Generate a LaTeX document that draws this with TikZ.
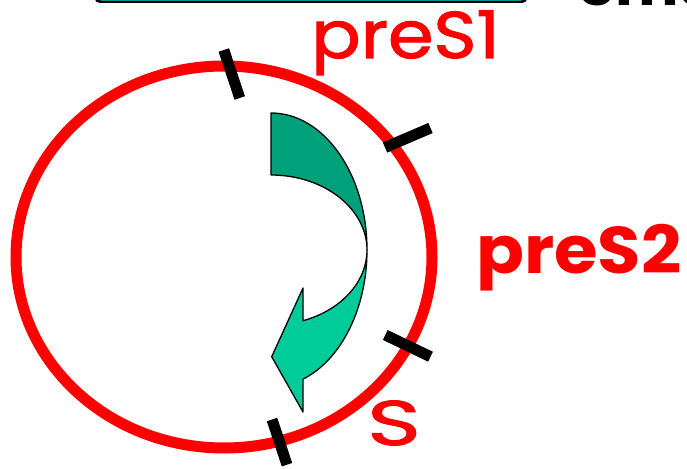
\documentclass[tikz,border=0pt]{standalone}
\usepackage{fontspec}
\newfontfamily\labfont{Poppins}
\newfontfamily\labfontheavy[FakeBold=1.6]{Poppins}
\definecolor{ringred}{RGB}{255,0,0}
\definecolor{darkteal}{RGB}{0,160,122}
\definecolor{lightteal}{RGB}{0,204,153}
\definecolor{boxcyan}{RGB}{0,230,230}
\tikzset{
  ring/.style={draw=ringred, line width=11pt},
  tick/.style={draw=black, line width=11pt, line cap=butt},
  band/.style={draw=black, line width=1.3pt, line join=round},
  lab/.style={text=ringred, inner sep=0pt, font=\labfontheavy\fontsize{66}{66}\selectfont},
}
\begin{document}
\begin{tikzpicture}[x=1pt,y=-1pt]
\useasboundingbox (0,0) rectangle (687,468);
\clip (0,0) rectangle (687,468);
% partial title box and title text at the top
\draw[black, line width=3pt, rounded corners=4pt] (96,-60) rectangle (526,1.5);
\draw[boxcyan, line width=1.5pt, rounded corners=4pt] (98,-60) rectangle (524,0);
\node[anchor=base west, inner sep=0pt, font=\labfont\bfseries\fontsize{60}{60}\selectfont] (title) at (578,6) {Sma};
% ring
\draw[ring] (224,257) ellipse [x radius=208, y radius=191];
% ticks
\coordinate (t1a) at (223.8,50);  \coordinate (t1b) at (239.7,98);
\coordinate (t2a) at (385,147.5); \coordinate (t2b) at (430.5,128);
\coordinate (t3a) at (385.3,335); \coordinate (t3b) at (430.5,356.7);
\coordinate (t4a) at (272,419.5); \coordinate (t4b) at (287,464.7);
\draw[tick] (t1a) -- (t1b);
\draw[tick] (t2a) -- (t2b);
\draw[tick] (t3a) -- (t3b);
\draw[tick] (t4a) -- (t4b);
% curved arrow: back band
\filldraw[band, fill=darkteal] (271,113) arc[start angle=-90, end angle=0, x radius=96, y radius=137]
  arc[start angle=0, end angle=-90, x radius=96, y radius=75] -- cycle;
% front band with head
\filldraw[band, fill=lightteal] (367,250) arc[start angle=0, end angle=70.53, x radius=96, y radius=137]
  -- (303,412) -- (271.7,356.7) -- (303,288) -- (303,320.7)
  arc[start angle=70.53, end angle=0, x radius=96, y radius=75] -- cycle;
% labels
\node[lab, anchor=base west] (pres1) at (311,58) {\scalebox{1.11}[1]{preS1}};
\node[lab, anchor=base west, font=\labfont\bfseries\fontsize{66}{66}\selectfont] (pres2) at (476,273) {\scalebox{1.07}[1]{preS2}};
\node[lab, anchor=base west, font=\labfontheavy\fontsize{63}{63}\selectfont] (s) at (367,445) {\scalebox{1.45}[1]{S}};
\end{tikzpicture}
\end{document}
